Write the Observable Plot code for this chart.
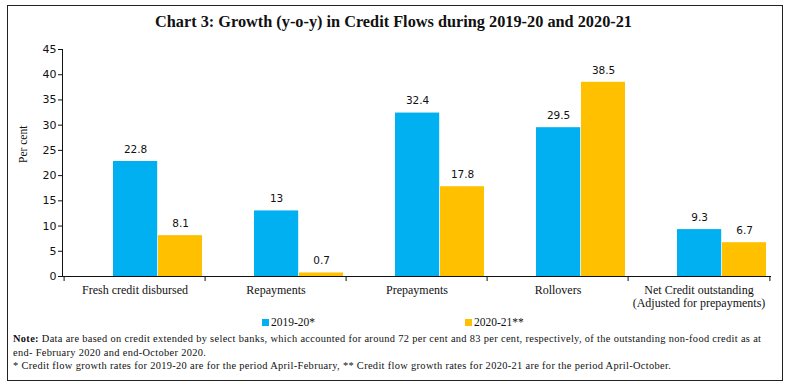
<!DOCTYPE html>
<html>
<head>
<meta charset="utf-8">
<script src="https://cdn.jsdelivr.net/npm/d3@7"></script>
<script src="https://cdn.jsdelivr.net/npm/@observablehq/plot@0.6"></script>
<style>
  html, body { margin: 0; padding: 0; background: #fff; }
  #wrap { position: relative; width: 787px; height: 386px; overflow: hidden; }
  #frame { position: absolute; left: 7px; top: 5px; width: 776px; height: 376px; border: 1.2px solid #222; box-sizing: border-box; }
  #title { position: absolute; left: 0; width: 787px; top: 12px; text-align: center; font-family: "Liberation Serif", serif; font-weight: bold; font-size: 16.3px; color: #111; }
  #chart { position: absolute; left: 0; top: 0; }
  #legend { position: absolute; top: 316px; left: 0; width: 787px; font-family: "Liberation Serif", serif; font-size: 11.5px; color: #111; }
  .lg { position: absolute; display: flex; align-items: center; }
  .sw { width: 7px; height: 7px; margin-right: 2px; }
  #notes { position: absolute; left: 13px; top: 332px; width: 770px; font-family: "Liberation Serif", serif; font-size: 10.4px; letter-spacing: 0.33px; line-height: 13.5px; color: #111; white-space: nowrap; }
</style>
</head>
<body>
<div id="wrap">
  <div id="frame"></div>
  <div id="chart"></div>
  <div id="title">Chart 3: Growth (y-o-y) in Credit Flows during 2019-20 and 2020-21</div>
  <div id="legend"></div>
  <div id="notes">
    <div><b>Note:</b> Data are based on credit extended by select banks, which accounted for around 72 per cent and 83 per cent, respectively, of the outstanding non-food credit as at</div>
    <div>end- February 2020 and end-October 2020.</div>
    <div>* Credit flow growth rates for 2019-20 are for the period April-February, ** Credit flow growth rates for 2020-21 are for the period April-October.</div>
  </div>
</div>
<script>
const categories = ["Fresh credit disbursed", "Repayments", "Prepayments", "Rollovers", "Net Credit outstanding\n(Adjusted for prepayments)"];
const series = ["2019-20*", "2020-21**"];
const values2019 = [22.8, 13, 32.4, 29.5, 9.3];
const values2020 = [8.1, 0.7, 17.8, 38.5, 6.7];
const yTicks = [0, 5, 10, 15, 20, 25, 30, 35, 40, 45];
const colors = ["#00B0F0", "#FFC000"];

const rows2019 = categories.map((c, i) => ({cat: c, v: values2019[i]}));
const rows2020 = categories.map((c, i) => ({cat: c, v: values2020[i]}));

const W = 787, mL = 62, mR = 16;
const bw = (W - mL - mR) / categories.length;

const sans = "'DejaVu Sans', sans-serif";
const serif = "'Liberation Serif', serif";

const plot = Plot.plot({
  width: W,
  height: 322,
  marginLeft: mL,
  marginRight: mR,
  marginTop: 49,
  marginBottom: 46,
  style: {fontFamily: sans, fontSize: "10.5px", color: "#111", background: "transparent"},
  x: {domain: categories, padding: 0},
  y: {domain: [0, 45]},
  marks: [
    Plot.barY(rows2019, {x: "cat", y: "v", fill: colors[0], insetLeft: 49, insetRight: bw - 94}),
    Plot.barY(rows2020, {x: "cat", y: "v", fill: colors[1], insetLeft: 94, insetRight: 3}),
    Plot.text(rows2019, {x: "cat", y: "v", text: d => String(d.v), dx: 71.5 - bw / 2, dy: -12, fontFamily: sans, fontSize: 10.5}),
    Plot.text(rows2020, {x: "cat", y: "v", text: d => String(d.v), dx: 116.5 - bw / 2, dy: -12, fontFamily: sans, fontSize: 10.5}),
    Plot.axisY({ticks: yTicks, tickSize: 4, tickPadding: 2, label: null, fontFamily: sans, fontSize: 11}),
    Plot.frame({anchor: "left", stroke: "#111"}),
    Plot.ruleY([0], {stroke: "#111"}),
    Plot.ruleX(categories, {x: d => d, y1: 0, y2: -1, dx: -bw / 2, stroke: "#111"}),
    Plot.ruleX([categories[categories.length - 1]], {x: d => d, y1: 0, y2: -1, dx: bw / 2, stroke: "#111"}),
    Plot.axisX({tickSize: 0, tickPadding: 8, label: null, fontFamily: serif, fontSize: 12, lineHeight: 1.1}),
    Plot.text(["Per cent"], {frameAnchor: "left", rotate: -90, dx: -39, fontFamily: serif, fontSize: 11.5})
  ]
});
document.getElementById("chart").appendChild(plot);

const legend = document.getElementById("legend");
const lgX = [262, 465];
series.forEach((s, i) => {
  const el = document.createElement("div");
  el.className = "lg";
  el.style.left = lgX[i] + "px";
  const sw = document.createElement("span");
  sw.className = "sw";
  sw.style.background = colors[i];
  const t = document.createElement("span");
  t.textContent = s;
  el.appendChild(sw);
  el.appendChild(t);
  legend.appendChild(el);
});
</script>
</body>
</html>
